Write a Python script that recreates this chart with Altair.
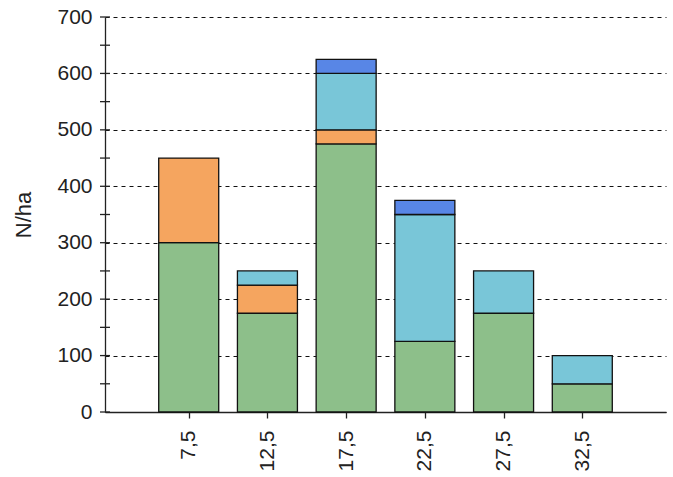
import altair as alt
import pandas as pd

classes = [7.5, 12.5, 17.5, 22.5, 27.5, 32.5]
green = [300, 175, 475, 125, 175, 50]
orange = [150, 50, 25, 0, 0, 0]
lightblue = [0, 25, 100, 225, 75, 50]
blue = [0, 0, 25, 25, 0, 0]
minor_ticks = [0, 50, 100, 150, 200, 250, 300, 350, 400, 450, 500, 550, 600, 650, 700]

series = [("g", green), ("o", orange), ("lb", lightblue), ("b", blue)]
rows = []
for order, (name, vals) in enumerate(series):
    for c, v in zip(classes, vals):
        if v > 0:
            rows.append({"cls": c, "series": name, "order": order, "value": v})
df = pd.DataFrame(rows)

colors = alt.Scale(domain=["g", "o", "lb", "b"],
                   range=["#8dbf8a", "#f5a55f", "#79c6d8", "#5886e6"])

FONT = "Liberation Sans"

x = alt.X("cls:Q", scale=alt.Scale(domain=[2.5, 37.5], nice=False, zero=False),
          axis=alt.Axis(values=classes, title=None, labelAngle=-90,
                        labelAlign="right", labelBaseline="middle",
                        labelExpr="replace(format(datum.value, '.1f'), '.', ',')",
                        labelFontSize=21, labelFont=FONT, labelColor="#222",
                        tickSize=6, tickColor="#222", tickWidth=1.3,
                        labelPadding=12,
                        domainColor="#222", domainWidth=1.3, grid=False))

bars = alt.Chart(df).mark_bar(size=60, stroke="#111", strokeWidth=1.3).encode(
    x=x,
    y=alt.Y("sum(value):Q", stack="zero",
            scale=alt.Scale(domain=[0, 700], nice=False),
            axis=alt.Axis(values=[0, 100, 200, 300, 400, 500, 600, 700],
                          title="N/ha", titleFont=FONT, titleFontSize=22,
                          titleFontWeight="normal", titleColor="#222",
                          titlePadding=21,
                          labelFontSize=21, labelFont=FONT, labelColor="#222",
                          labelPadding=13, ticks=False,
                          domainColor="#222", domainWidth=1.3,
                          grid=True, gridDash=[4, 4], gridColor="#111",
                          gridWidth=1)),
    color=alt.Color("series:N", scale=colors, legend=None),
    order=alt.Order("order:Q"),
)

tick_df = pd.DataFrame({"v": minor_ticks})
ticks = alt.Chart(tick_df).mark_rule(color="#222", strokeWidth=1.3).encode(
    x=alt.value(-5),
    x2=alt.value(5),
    y=alt.Y("v:Q"),
)

chart = alt.layer(bars, ticks).properties(
    width=561, height=395,
    background="white",
    autosize=alt.AutoSizeParams(type="none"),
    padding={"left": 105, "top": 17, "right": 7, "bottom": 65},
).configure_view(stroke=None)

chart.save("out.html", embed_options={"renderer": "svg", "actions": False})
